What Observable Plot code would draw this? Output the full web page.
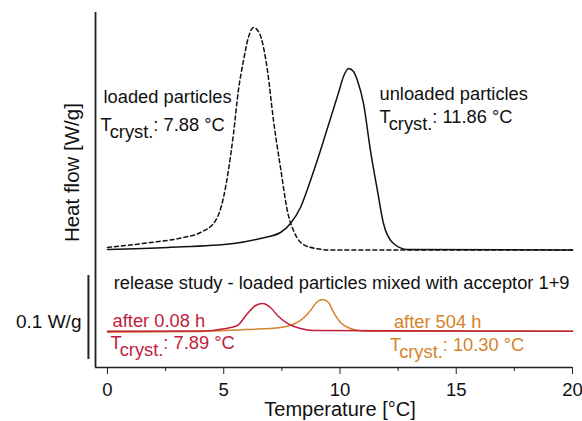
<!DOCTYPE html>
<html><head><meta charset="utf-8">
<script src="https://cdn.jsdelivr.net/npm/d3@7"></script>
<script src="https://cdn.jsdelivr.net/npm/@observablehq/plot@0.6"></script>
<style>body{margin:0;background:#fff}svg{display:block}</style>
</head><body><div id="chart"></div>
<script>
// Temperature [°C] and heat flow [W/g, stacked offsets]
const loadedT  = [0.0, 1.85, 3.27, 4.00, 4.65, 4.99, 5.20, 5.42, 5.63, 5.85, 6.06, 6.28, 6.54, 6.88, 7.14, 7.44, 7.78, 8.00, 8.17, 8.43, 8.95, 9.59, 20.0];
const loadedHF = [0.1429, 0.1488, 0.1548, 0.1607, 0.1750, 0.2024, 0.2345, 0.2786, 0.3298, 0.3655, 0.3929, 0.4048, 0.3976, 0.3536, 0.2940, 0.2381, 0.1810, 0.1631, 0.1536, 0.1464, 0.1417, 0.1399, 0.1399];

const unloadedT  = [0.0, 2.58, 5.42, 6.58, 7.44, 7.87, 8.30, 8.73, 9.16, 9.59, 9.94, 10.15, 10.37, 10.58, 10.75, 11.01, 11.31, 11.61, 11.87, 12.30, 12.90, 20.0];
const unloadedHF = [0.1405, 0.1429, 0.1476, 0.1536, 0.1607, 0.1714, 0.1905, 0.2226, 0.2583, 0.2964, 0.3274, 0.3464, 0.3560, 0.3524, 0.3417, 0.3143, 0.2583, 0.2107, 0.1714, 0.1476, 0.1405, 0.1399];

const rel008T  = [0.0, 4.00, 5.16, 5.59, 6.02, 6.37, 6.67, 7.01, 7.31, 7.74, 8.30, 8.86, 20.0];
const rel008HF = [0.0432, 0.0435, 0.0468, 0.0500, 0.0643, 0.0738, 0.0762, 0.0714, 0.0619, 0.0524, 0.0464, 0.0440, 0.0432];

const rel504T  = [0.0, 4.00, 6.02, 7.44, 8.30, 8.73, 8.99, 9.25, 9.51, 9.68, 10.02, 10.45, 10.88, 11.74, 20.0];
const rel504HF = [0.0420, 0.0429, 0.0452, 0.0476, 0.0560, 0.0679, 0.0774, 0.0810, 0.0774, 0.0679, 0.0536, 0.0464, 0.0437, 0.0431, 0.0431];

const majorTicks = [0, 5, 10, 15, 20];
const minorTicks = [2.5, 7.5, 12.5, 17.5];
const xLabel = "Temperature [°C]";
const yLabel = "Heat flow [W/g]";

const annoText  = ["loaded particles", "T_{cryst.}: 7.88 °C", "unloaded particles", "T_{cryst.}: 11.86 °C",
                   "release study - loaded particles mixed with acceptor 1+9",
                   "after 0.08 h", "T_{cryst.}: 7.89 °C", "after 504 h", "T_{cryst.}: 10.30 °C"];
const annoX     = [-0.17, -0.30, 11.70, 11.70, 0.27, 0.22, 0.13, 12.32, 12.15];
const annoY     = [0.3214, 0.2887, 0.3250, 0.2978, 0.1000, 0.0556, 0.0288, 0.0536, 0.0270];
const annoGroup = ["black", "black", "black", "black", "black", "red", "red", "orange", "orange"];

const scaleBarX = -0.82, scaleBarLow = 0.0095, scaleBarValue = 0.1;
const scaleBarLabel = "0.1 W/g";

const RED = "#be1e3c", ORANGE = "#d4842c";
const colorOf = {black: "#111", red: RED, orange: ORANGE};

const zip = (xs, ys) => xs.map((x, i) => ({x, y: ys[i]}));
const annos = annoText.map((t, i) => ({t, x: annoX[i], y: annoY[i], c: colorOf[annoGroup[i]]}));

const svg = Plot.plot({
  width: 582, height: 421,
  marginLeft: 95, marginRight: 10, marginTop: 12, marginBottom: 54,
  style: {fontFamily: "'Liberation Sans', Arial, sans-serif", fontSize: "18px", background: "#fff", color: "#111"},
  x: {domain: [-0.516, 20]},
  y: {domain: [0, 0.4226], axis: null},
  marks: [
    Plot.ruleY([0], {stroke: "#222", strokeWidth: 1.5}),
    Plot.ruleX([-0.516], {stroke: "#222", strokeWidth: 1.8}),
    Plot.axisX(majorTicks, {tickSize: 7, tickPadding: 8, fontSize: 18.5, label: null, stroke: "#222"}),
    Plot.axisX(minorTicks, {tickSize: 4, tickFormat: () => "", label: null, stroke: "#222"}),
    Plot.text([{x: 10, y: 0, t: xLabel}], {x: "x", y: "y", text: "t", dy: 42.5, fontSize: 20, fill: "#111"}),
    Plot.text([{x: -1.52, y: 0.232, t: yLabel}], {x: "x", y: "y", text: "t", rotate: -90, fontSize: 20.5, fill: "#111"}),
    Plot.ruleX([{x: scaleBarX, y1: scaleBarLow, y2: scaleBarLow + scaleBarValue}], {x: "x", y1: "y1", y2: "y2", stroke: "#222", strokeWidth: 2}),
    Plot.text([{x: -1.12, y: scaleBarLow + scaleBarValue * 0.443, t: scaleBarLabel}], {x: "x", y: "y", text: "t", textAnchor: "end", fontSize: 19, fill: "#111"}),
    Plot.line(zip(loadedT, loadedHF), {x: "x", y: "y", stroke: "#111", strokeWidth: 1.5, strokeDasharray: "4,3", curve: "monotone-x"}),
    Plot.line(zip(unloadedT, unloadedHF), {x: "x", y: "y", stroke: "#111", strokeWidth: 1.5, curve: "monotone-x"}),
    Plot.line(zip(rel504T, rel504HF), {x: "x", y: "y", stroke: ORANGE, strokeWidth: 1.5, curve: "monotone-x"}),
    Plot.line(zip(rel008T, rel008HF), {x: "x", y: "y", stroke: RED, strokeWidth: 1.5, curve: "monotone-x"}),
    Plot.text(annos, {x: "x", y: "y", text: "t", fill: "c", textAnchor: "start", fontSize: 18.3})
  ]
});

d3.select(svg).selectAll("text").each(function () {
  const m = this.textContent.match(/^(.*)_\{(.*)\}(.*)$/);
  if (!m) return;
  const sel = d3.select(this);
  sel.text(null);
  sel.append("tspan").text(m[1]);
  sel.append("tspan").attr("dy", "0.38em").text(m[2]);
  sel.append("tspan").attr("dy", "-0.38em").text(m[3]);
});

document.getElementById("chart").appendChild(svg);
</script>
</body></html>
